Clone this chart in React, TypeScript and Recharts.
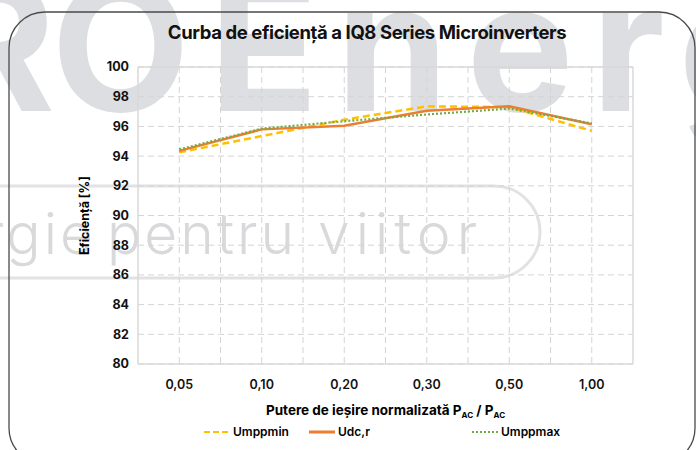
import React from 'react';
import { LineChart, Line, XAxis, YAxis, CartesianGrid, Legend } from 'recharts';

const categories = ['0,05', '0,10', '0,20', '0,30', '0,50', '1,00'];
const umppmin = [94.25, 95.35, 96.45, 97.35, 97.3, 95.7];
const udcr = [94.35, 95.8, 96.05, 97.05, 97.35, 96.15];
const umppmax = [94.45, 95.85, 96.35, 96.8, 97.2, 96.2];
const yTicks = [80, 82, 84, 86, 88, 90, 92, 94, 96, 98, 100];
const seriesNames = ['Umppmin', 'Udc,r', 'Umppmax'];

const data = categories.map((c, i) => ({
  cat: c,
  Umppmin: umppmin[i],
  'Udc,r': udcr[i],
  Umppmax: umppmax[i],
}));

const FONT = 'Inter, "Noto Sans", sans-serif';
const COLORS = { Umppmin: '#FFC000', 'Udc,r': '#ED7D31', Umppmax: '#70AD47' };
const DASH = { Umppmin: '7 4', 'Udc,r': undefined, Umppmax: '2 2' } as Record<string, string | undefined>;

const Watermark = () => (
  <svg width={696} height={450} style={{ position: 'absolute', left: 0, top: 0 }}>
    <g fontFamily={FONT} fontWeight={700} fontSize={180} fill="#dddee2">
      <text x={186} y={111} textAnchor="end" letterSpacing={-4}>RO</text>
      <text x={209} y={111} letterSpacing={18}>Energy</text>
    </g>
    <path d="M -10 186 L 494 186 A 46 46 0 0 1 494 278 L -10 278" fill="none" stroke="#e2e2e5" strokeWidth={3} />
    <g fontFamily={FONT} fontWeight={300} fontSize={57} fill="#d9d9dc" letterSpacing={3}>
      <text x={96} y={254} textAnchor="end">ergie</text>
      <text x={107} y={254}>pentru</text>
      <text x={318} y={254} letterSpacing={6}>viitor</text>
    </g>
    <rect x={9} y={12} width={686} height={452} rx={36} ry={36} fill="none" stroke="#4a4a4a" strokeWidth={1.3} />
  </svg>
);

const LegendContent = () => {
  const lefts = [204, 309, 472];
  return (
    <div style={{ position: 'relative', width: 696, height: 18 }}>
      {seriesNames.map((n, i) => (
        <div key={n} style={{ position: 'absolute', left: lefts[i], top: 0, display: 'flex', alignItems: 'center', fontFamily: FONT, fontWeight: 600, fontSize: 12, color: '#000' }}>
          <svg width={26} height={10} style={{ marginRight: 3 }}>
            <line x1={0} y1={5} x2={26} y2={5} stroke={(COLORS as any)[n]} strokeWidth={n === 'Udc,r' ? 3 : 2.2} strokeDasharray={n === 'Umppmin' ? '6 3' : n === 'Umppmax' ? '2 2' : undefined} />
          </svg>
          <span>{n}</span>
        </div>
      ))}
    </div>
  );
};

const XLabel = (props: any) => {
  const vb = props.viewBox || {};
  const cx = vb.x + vb.width / 2;
  return (
    <text x={cx} y={415} textAnchor="middle" fontFamily={FONT} fontWeight={700} fontSize={13.5} fill="#000">
      <tspan>Putere de ieșire normalizată P</tspan>
      <tspan fontSize={8} dy={3}>AC</tspan>
      <tspan dy={-3}> / P</tspan>
      <tspan fontSize={8} dy={3}>AC</tspan>
    </text>
  );
};

const YLabel = (props: any) => {
  const vb = props.viewBox || {};
  const cy = vb.y + vb.height / 2;
  return (
    <text x={89} y={cy} transform={`rotate(-90 89 ${cy})`} textAnchor="middle" fontFamily={FONT} fontWeight={700} fontSize={12.5} fill="#000">
      Eficiență [%]
    </text>
  );
};

const innerV = ({ offset }: any) => {
  const pts: number[] = [];
  for (let i = 1; i < categories.length * 2; i++) pts.push(offset.left + (i * offset.width) / (categories.length * 2));
  return pts;
};
const edgeV = ({ offset }: any) => [offset.left, offset.left + offset.width];
const edgeH = ({ offset }: any) => [offset.top, offset.top + offset.height];

export default function App() {
  return (
    <div style={{ position: 'absolute', left: 0, top: 0, width: 696, height: 450, background: '#fff', overflow: 'hidden' }}>
      <Watermark />
      <div style={{ position: 'absolute', left: 0, top: 21, width: 734, textAlign: 'center', fontFamily: FONT, fontWeight: 700, fontSize: 18.5, letterSpacing: -0.4, color: '#111' }}>
        Curba de eficiență a IQ8 Series Microinverters
      </div>
      <div style={{ position: 'absolute', left: 0, top: 0 }}>
        <LineChart width={696} height={450} data={data} margin={{ top: 67, right: 63, bottom: 56, left: 98 }}>
          <CartesianGrid stroke="#d4d4d4" strokeDasharray="6 4" vertical={true} verticalCoordinatesGenerator={innerV} />
          <CartesianGrid stroke="#d9d9d9" strokeWidth={1.5} verticalCoordinatesGenerator={edgeV} horizontalCoordinatesGenerator={edgeH} />
          <XAxis dataKey="cat" scale="band" axisLine={false} tickLine={false} height={30} tickMargin={10} tick={{ fontFamily: FONT, fontWeight: 600, fontSize: 12.5, fill: '#111' }} label={<XLabel />} />
          <YAxis domain={[80, 100]} ticks={yTicks} width={40} axisLine={false} tickLine={false} tickSize={0} tickMargin={9} tick={{ fontFamily: FONT, fontWeight: 700, fontSize: 12.5, fill: '#111' }} label={<YLabel />} />
          <Legend verticalAlign="middle" align="center" layout="horizontal" wrapperStyle={{ top: 424, left: 0, width: 696 }} content={<LegendContent />} />
          {seriesNames.map((n) => (
            <Line key={n} type="linear" dataKey={n} stroke={(COLORS as any)[n]} strokeWidth={n === 'Umppmax' ? 2.2 : 2.5} strokeDasharray={DASH[n]} dot={false} activeDot={false} isAnimationActive={false} />
          ))}
        </LineChart>
      </div>
    </div>
  );
}
